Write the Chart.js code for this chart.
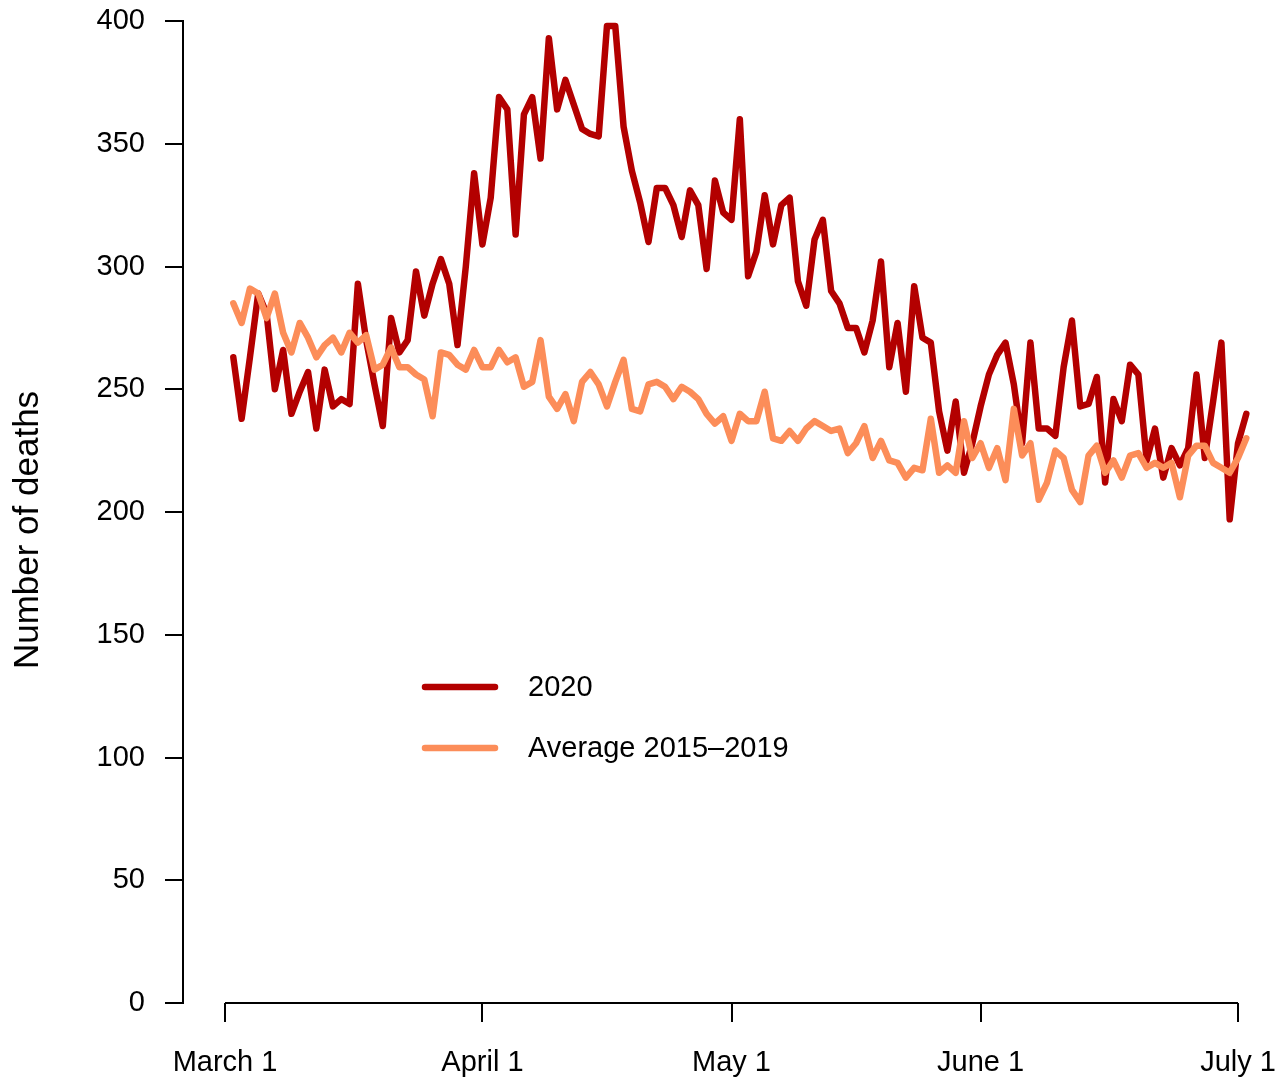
<!DOCTYPE html>
<html lang="en">
<head>
    <meta charset="UTF-8">
    <title>Number of deaths - 2020 vs average 2015-2019</title>
    <style>
        html, body {
            margin: 0;
            padding: 0;
            background: #fff;
        }
        #chart-container {
            width: 1287px;
            height: 1078px;
            position: relative;
        }
    </style>
    <script src="https://cdn.jsdelivr.net/npm/chart.js"></script>
</head>
<body>
    <div id="chart-container">
        <canvas id="deathsChart"></canvas>
    </div>

    <script>
        // Daily deaths, first value is March 2 (day 0 = March 1)
        const firstDay = 1;
        const deaths2020 = [
            263, 238, 263, 289, 281, 250, 266, 240, 249, 257,
            234, 258, 243, 246, 244, 293, 270, 252, 235, 279,
            265, 270, 298, 280, 293, 303, 293, 268, 300, 338,
            309, 328, 369, 364, 313, 362, 369, 344, 393, 364,
            376, 366, 356, 354, 353, 398, 398, 357, 339, 326,
            310, 332, 332, 325, 312, 331, 325, 299, 335, 322,
            319, 360, 296, 306, 329, 309, 325, 328, 294, 284,
            311, 319, 290, 285, 275, 275, 265, 278, 302, 259,
            277, 249, 292, 271, 269, 241, 225, 245, 216, 228,
            243, 256, 264, 269, 252, 228, 269, 234, 234, 231,
            259, 278, 243, 244, 255, 212, 246, 237, 260, 256,
            221, 234, 214, 226, 219, 226, 256, 222, 245, 269,
            197, 228, 240
        ];
        const deathsAvg = [
            285, 277, 291, 289, 279, 289, 273, 265, 277, 271,
            263, 268, 271, 265, 273, 269, 272, 258, 260, 267,
            259, 259, 256, 254, 239, 265, 264, 260, 258, 266,
            259, 259, 266, 261, 263, 251, 253, 270, 247, 242,
            248, 237, 253, 257, 252, 243, 253, 262, 242, 241,
            252, 253, 251, 246, 251, 249, 246, 240, 236, 239,
            229, 240, 237, 237, 249, 230, 229, 233, 229, 234,
            237, 235, 233, 234, 224, 228, 235, 222, 229, 221,
            220, 214, 218, 217, 238, 216, 219, 216, 237, 222,
            228, 218, 226, 213, 242, 223, 228, 205, 212, 225,
            222, 209, 204, 223, 227, 216, 221, 214, 223, 224,
            218, 220, 218, 220, 206, 223, 227, 227, 220, 218,
            216, 222, 230
        ];
        const seriesNames = ['2020', 'Average 2015\u20132019'];
        const seriesColors = ['#b30000', '#fc8d59'];

        // x axis ticks (days after March 1), placed as in the original figure
        const tickDays = [0, 31, 61, 91, 122];
        const tickLabels = ['March 1', 'April 1', 'May 1', 'June 1', 'July 1'];

        function toPoints(values) {
            return values.map((v, i) => ({ x: firstDay + i, y: v }));
        }

        Chart.defaults.font.family = "'Liberation Sans', Arial, Helvetica, sans-serif";
        Chart.defaults.color = '#000';

        // extra drawing: R-style x axis line, y title, legend
        const extras = {
            id: 'extras',
            afterDraw(chart) {
                const c = chart.ctx;
                const xs = chart.scales.x;
                const area = chart.chartArea;
                c.save();
                // x axis line between first and last tick only
                c.strokeStyle = '#000';
                c.lineWidth = 2;
                c.beginPath();
                c.moveTo(xs.getPixelForValue(tickDays[0]), area.bottom);
                c.lineTo(xs.getPixelForValue(tickDays[tickDays.length - 1]), area.bottom);
                c.stroke();

                // y axis title
                c.font = "35px 'Liberation Sans', Arial, sans-serif";
                c.fillStyle = '#000';
                c.textAlign = 'center';
                c.textBaseline = 'middle';
                c.translate(28, 530);
                c.rotate(-Math.PI / 2);
                c.fillText('Number of deaths', 0, 0);
                c.restore();

                // legend
                c.save();
                c.font = "29px 'Liberation Sans', Arial, sans-serif";
                c.textAlign = 'left';
                c.textBaseline = 'middle';
                c.lineCap = 'round';
                chart.data.datasets.forEach((ds, i) => {
                    const y = 687 + i * 61;
                    c.strokeStyle = ds.borderColor;
                    c.lineWidth = 6.5;
                    c.beginPath();
                    c.moveTo(425, y);
                    c.lineTo(495, y);
                    c.stroke();
                    c.fillStyle = '#000';
                    c.fillText(ds.label, 528, y + 1);
                });
                c.restore();
            }
        };

        const ctx = document.getElementById('deathsChart').getContext('2d');
        const deathsChart = new Chart(ctx, {
            type: 'line',
            data: {
                datasets: [{
                    label: seriesNames[0],
                    data: toPoints(deaths2020),
                    borderColor: seriesColors[0],
                    borderWidth: 6.5,
                    pointRadius: 0,
                    tension: 0,
                    borderCapStyle: 'round',
                    borderJoinStyle: 'round',
                    order: 1
                }, {
                    label: seriesNames[1],
                    data: toPoints(deathsAvg),
                    borderColor: seriesColors[1],
                    borderWidth: 6.5,
                    pointRadius: 0,
                    tension: 0,
                    borderCapStyle: 'round',
                    borderJoinStyle: 'round',
                    order: 0
                }]
            },
            options: {
                responsive: true,
                maintainAspectRatio: false,
                animation: false,
                layout: {
                    padding: { top: 21, right: 24, bottom: 0, left: 0 }
                },
                plugins: {
                    legend: { display: false },
                    tooltip: { enabled: false }
                },
                scales: {
                    x: {
                        type: 'linear',
                        bounds: 'data',
                        min: -5.06,
                        max: 125.01,
                        afterBuildTicks: (scale) => {
                            scale.ticks = tickDays.map(v => ({ value: v }));
                        },
                        afterFit: (scale) => {
                            scale.height = 75;
                            scale.paddingLeft = 0;
                            scale.paddingRight = 0;
                        },
                        border: { display: false },
                        grid: {
                            drawOnChartArea: false,
                            color: '#000',
                            lineWidth: 2,
                            tickLength: 19
                        },
                        ticks: {
                            autoSkip: false,
                            maxRotation: 0,
                            padding: 24,
                            font: { size: 29 },
                            callback: (v) => tickLabels[tickDays.indexOf(v)]
                        }
                    },
                    y: {
                        min: 0,
                        max: 400,
                        afterFit: (scale) => {
                            scale.width = 183;
                            scale.paddingTop = 0;
                            scale.paddingBottom = 0;
                        },
                        border: { display: true, color: '#000', width: 2 },
                        grid: {
                            drawOnChartArea: false,
                            color: '#000',
                            lineWidth: 2,
                            tickLength: 18
                        },
                        ticks: {
                            stepSize: 50,
                            padding: 20,
                            font: { size: 29 }
                        }
                    }
                }
            },
            plugins: [extras]
        });
    </script>
</body>
</html>
